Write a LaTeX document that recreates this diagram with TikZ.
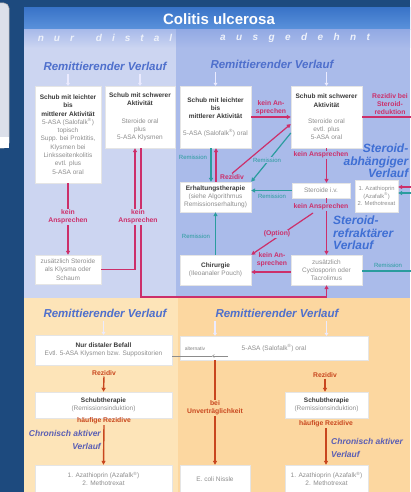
\documentclass[tikz,border=0pt]{standalone}
\usepackage{fontspec}
\setmainfont{Liberation Sans}
\usetikzlibrary{arrows.meta}
\definecolor{darkbg}{HTML}{1D4A7E}
\definecolor{artgray}{HTML}{DCE0EA}
\definecolor{titleA}{HTML}{3A74C8}
\definecolor{titleB}{HTML}{5C93DC}
\definecolor{colL}{HTML}{CCD5F1}
\definecolor{colR}{HTML}{AABBEA}
\definecolor{bandL}{HTML}{A9BBEA}
\definecolor{bandR}{HTML}{93AAE4}
\definecolor{botL}{HTML}{FDE4B8}
\definecolor{botR}{HTML}{FCD7A0}
\definecolor{hdrblue}{HTML}{4E6FCC}
\definecolor{bigblue}{HTML}{3F6FD4}
\definecolor{redm}{HTML}{CC2F6A}
\definecolor{redo}{HTML}{C8461E}
\definecolor{tealc}{HTML}{2A9C9E}
\definecolor{hdtxt}{HTML}{3A3A3A}
\definecolor{bodytxt}{HTML}{8E8E8E}
\definecolor{chron}{HTML}{5A5EB4}
\definecolor{bandtxt}{HTML}{EEF2FB}
\newcommand\hb[1]{{\bfseries\color{hdtxt}#1}}
\newcommand\rsup{\textsuperscript{®}}
\tikzset{
 box/.style={fill=white, draw=black!10, line width=0.4pt, align=center, inner sep=1pt, text=bodytxt, font=\fontsize{6.5}{8.3}\selectfont},
 rlbl/.style={text=redm, font=\bfseries\fontsize{6.8}{7.6}\selectfont, align=center, inner sep=0.8pt},
 olbl/.style={text=redo, font=\bfseries\fontsize{6.8}{7.6}\selectfont, align=center, inner sep=0.8pt},
 tlbl/.style={text=tealc, font=\fontsize{6}{7}\selectfont, align=center, inner sep=0.8pt},
 hdr/.style={text=hdrblue, font=\bfseries\itshape\fontsize{11.5}{12}\selectfont},
 bigb/.style={text=bigblue, font=\bfseries\itshape\fontsize{12}{12.5}\selectfont, inner sep=0pt},
 chr/.style={text=chron, font=\bfseries\itshape\fontsize{8.5}{12.5}\selectfont, inner sep=0pt},
 arrtip/.style={-{Triangle[length=4pt,width=4pt]}},
 redarr/.style={draw=redm, line width=1.2pt, arrtip},
 tealarr/.style={draw=tealc, line width=1.2pt, arrtip},
 orarr/.style={draw=redo, line width=1.4pt, arrtip},
 wharr/.style={draw=white!92!blue, line width=1.4pt, -{Triangle[length=3pt,width=4pt]}},
 bandfont/.style={text=bandtxt, font=\bfseries\itshape\fontsize{10}{10}\selectfont},
}
\begin{document}
\begin{tikzpicture}[x=1pt,y=-1pt]
\useasboundingbox (0,0) rectangle (410,492);
\fill[darkbg] (0,0) rectangle (410,492);
% left screen artifact
\fill[artgray, rounded corners=5pt] (-20,3) rectangle (9,148);
\draw[black!35, line width=0.5pt, rounded corners=5pt] (-20,3) rectangle (9,148);
\fill[white] (0,137) rectangle (8.7,148);
% panel backgrounds
\shade[top color=titleA, bottom color=titleB] (24,8) rectangle (410,30);
\fill[colL] (24,30) rectangle (176,298);
\fill[colR] (176,30) rectangle (410,298);
\shade[top color=bandL, bottom color=colL] (24,30) rectangle (176,48);
\shade[top color=bandR, bottom color=colR] (176,30) rectangle (410,48);
\fill[botL] (24,298) rectangle (178,492);
\fill[botR] (178,298) rectangle (410,492);
% title and bands
\node[text=white, font=\bfseries\fontsize{15}{15}\selectfont] (title) at (219,19) {Colitis ulcerosa};
\node[bandfont] (nd) at (105,38) {n\hspace{10pt}u\hspace{10pt}r\hspace{22pt}d\hspace{10pt}i\hspace{10pt}s\hspace{10pt}t\hspace{10pt}a\hspace{10pt}l};
\node[bandfont] (ag) at (295,38) {a\hspace{10.4pt}u\hspace{10.4pt}s\hspace{10.4pt}g\hspace{10.4pt}e\hspace{10.4pt}d\hspace{10.4pt}e\hspace{10.4pt}h\hspace{10.4pt}n\hspace{10.4pt}t};
% headers
\node[hdr] (hTL) at (105,66) {Remittierender Verlauf};
\node[hdr] (hTR) at (272,64) {Remittierender Verlauf};
\node[hdr] (hBL) at (105,313) {Remittierender Verlauf};
\node[hdr] (hBR) at (277,313) {Remittierender Verlauf};
% upper boxes
\node[box, minimum width=66, minimum height=97] (L1) at (68,134.5) {\hb{Schub mit leichter}\\\hb{bis}\\\hb{mittlerer Aktivität}\\5-ASA (Salofalk\rsup)\\topisch\\Supp. bei Proktitis,\\Klysmen bei\\Linksseitenkolitis\\evtl. plus\\5-ASA oral};
\node[box, minimum width=70, minimum height=62] (L2) at (140,117) {\hb{Schub mit schwerer}\\\hb{Aktivität}\\[9pt]Steroide oral\\plus\\5-ASA Klysmen};
\node[box, minimum width=66, minimum height=29] (L3) at (68,269.5) {zusätzlich Steroide\\als Klysma oder\\Schaum};
\node[box, minimum width=71, minimum height=62] (R1) at (215.5,117) {\hb{Schub mit leichter}\\\hb{bis}\\\hb{mittlerer Aktivität}\\[8pt]5-ASA (Salofalk\rsup) oral};
\node[box, minimum width=71, minimum height=62] (R2) at (326.5,117) {\hb{Schub mit schwerer}\\\hb{Aktivität}\\[8pt]Steroide oral\\evtl. plus\\5-ASA oral};
\node[box, minimum width=71, minimum height=30] (Erh) at (215.5,197) {\hb{Erhaltungstherapie}\\(siehe Algorithmus\\Remissionserhaltung)};
\node[box, minimum width=58, minimum height=15] (Ster) at (321,190.5) {Steroide i.v.};
\node[box, minimum width=43, minimum height=32, font=\fontsize{5.8}{7.5}\selectfont] (Aza) at (376.5,196) {1. Azathioprin\\(Azafalk\rsup)\\2. Methotrexat};
\node[box, minimum width=71, minimum height=30] (Chir) at (215.5,270) {\hb{Chirurgie}\\(Ileoanaler Pouch)};
\node[box, minimum width=71, minimum height=30] (Cyc) at (326.5,270) {zusätzlich\\Cyclosporin oder\\Tacrolimus};
% lower boxes
\node[box, minimum width=137, minimum height=30] (B1) at (103.5,350) {\hb{Nur distaler Befall}\\Evtl. 5-ASA Klysmen bzw. Suppositorien};
\node[box, minimum width=188, minimum height=24] (B2) at (274,348) {5-ASA (Salofalk\rsup) oral};
\node[box, minimum width=137, minimum height=26] (B3) at (103.5,405) {\hb{Schubtherapie}\\(Remissionsinduktion)};
\node[box, minimum width=137, minimum height=28] (B4) at (103.5,479) {1. Azathioprin (Azafalk\rsup)\\2. Methotrexat};
\node[box, minimum width=70, minimum height=28] (B5) at (215,479) {E. coli Nissle};
\node[box, minimum width=83, minimum height=26] (B6) at (326.5,405) {\hb{Schubtherapie}\\(Remissionsinduktion)};
\node[box, minimum width=83, minimum height=28] (B7) at (326.5,479) {1. Azathioprin (Azafalk\rsup)\\2. Methotrexat};
% big blue labels
\node[bigb, anchor=north east, align=right] (sab) at (408.5,144) {Steroid-\\abhängiger\\Verlauf};
\node[bigb, anchor=north west, align=left] (srf) at (333,216) {Steroid-\\refraktärer\\Verlauf};
% white header arrows
\draw[wharr] (hTL.south -| L1.north) -- (L1.north);
\draw[wharr] (hTL.south -| L2.north) -- (L2.north);
\draw[wharr] (hTR.south -| R1.north) -- (R1.north);
\draw[wharr] (hTR.south -| R2.north) -- (R2.north);
\draw[wharr] (hBL.south -| B1.north) -- (B1.north);
\draw[wharr] (hBR.south -| B5.north) -- (B2.north -| B5.north);
\draw[wharr] (hBR.south -| B6.north) -- (B2.north -| B6.north);
% upper left connectors
\draw[redarr] (L1.south) -- (L3.north);
\draw[redarr] (L3.east) -| ([xshift=-5pt]L2.south);
\draw[redarr] ([xshift=1pt]L2.south) |- (Cyc.south |- 0,297) -- (Cyc.south);
\node[rlbl, fill=colL] (kA1) at (68,217) {kein\\Ansprechen};
\node[rlbl, fill=colL] (kA2) at (138,217) {kein\\Ansprechen};
% upper right connectors
\draw[redarr] (R1.east) -- (R2.west);
\node[rlbl] (kA3) at (271,108) {kein An-\\sprechen};
\draw[redarr] (R2.east) -- (416,117) -- (416,187) -- (Aza.east |- 0,187);
\node[rlbl] (rbs) at (390,104) {Rezidiv bei\\Steroid-\\reduktion};
\draw[tealarr] ([xshift=-4.5pt]R1.south) -- ([xshift=-4.5pt]Erh.north);
\draw[redarr] ([xshift=0.5pt]Erh.north) -- ([xshift=0.5pt]R1.south);
\node[tlbl] (rm1) at (193,157) {Remission};
\node[rlbl] (rz1) at (232,177) {Rezidiv};
\draw[redarr] (rz1.north) -- (R2.west |- 0,124);
\draw[tealarr] (R2.west |- 0,133) -- (Erh.north east);
\node[tlbl, fill=colR] (rm2) at (267,160) {Remission};
\draw[redarr] (R2.south) -- (Ster.north -| R2.south);
\node[rlbl, fill=colR] (kA4) at (321,155) {kein Ansprechen};
\draw[tealarr] (Ster.west) -- (Erh.east |- Ster.west);
\node[tlbl] (rm3) at (272,196) {Remission};
\draw[redarr] (Ster.south -| Cyc.north) -- (Cyc.north);
\node[rlbl, fill=colR] (kA5) at (321,207) {kein Ansprechen};
\coordinate (optS) at (313,213);
\draw[redarr] (optS) -- (Chir.north east);
\node[rlbl, fill=colR] (opt) at (277,234) {(Option)};
\draw[redarr] (Cyc.west |- 0,272) -- (Chir.east |- 0,272);
\node[rlbl] (kA6) at (272,260) {kein An-\\sprechen};
\draw[tealarr] (Chir.north) -- (Erh.south);
\node[tlbl] (rm4) at (196,236) {Remission};
\draw[tealarr] (Cyc.east |- 0,271) -- (416,271) -- (416,193) -- (Aza.east |- 0,193);
\node[tlbl] (rm5) at (388,265) {Remission};
% lower connectors
\coordinate (altS) at (228,356);
\coordinate (altM) at (212,356);
\draw[draw=black!45, line width=0.5pt, -{Straight Barb[length=2pt,width=3pt]}] (altS) -- (altM);
\draw[draw=black!45, line width=0.5pt] (altM) -- (B1.east |- altM);
\node[text=black!50, font=\fontsize{5}{6}\selectfont, inner sep=0pt] (alt) at (195,349) {alternativ};
\node[olbl] (rzB1) at (104,373) {Rezidiv};
\draw[orarr] (rzB1.south) -- (B3.north);
\node[olbl] (hR1) at (104,421) {häufige Rezidive};
\draw[orarr] (hR1.south) -- (B4.north);
\node[chr, anchor=east, align=right] (ca1) at (101,440) {Chronisch aktiver\\Verlauf};
\draw[orarr] (B2.south -| B5.north) -- (B5.north);
\node[olbl, fill=botR] (unv) at (215,408) {bei\\Unverträglichkeit};
\node[olbl] (rzB2) at (325,375) {Rezidiv};
\draw[orarr] (rzB2.south) -- (B6.north -| rzB2.south);
\node[olbl] (hR2) at (326,424) {häufige Rezidive};
\draw[orarr] (hR2.south) -- (B7.north -| hR2.south);
\node[chr, anchor=west, align=left] (ca2) at (331,448) {Chronisch aktiver\\Verlauf};
\end{tikzpicture}
\end{document}
